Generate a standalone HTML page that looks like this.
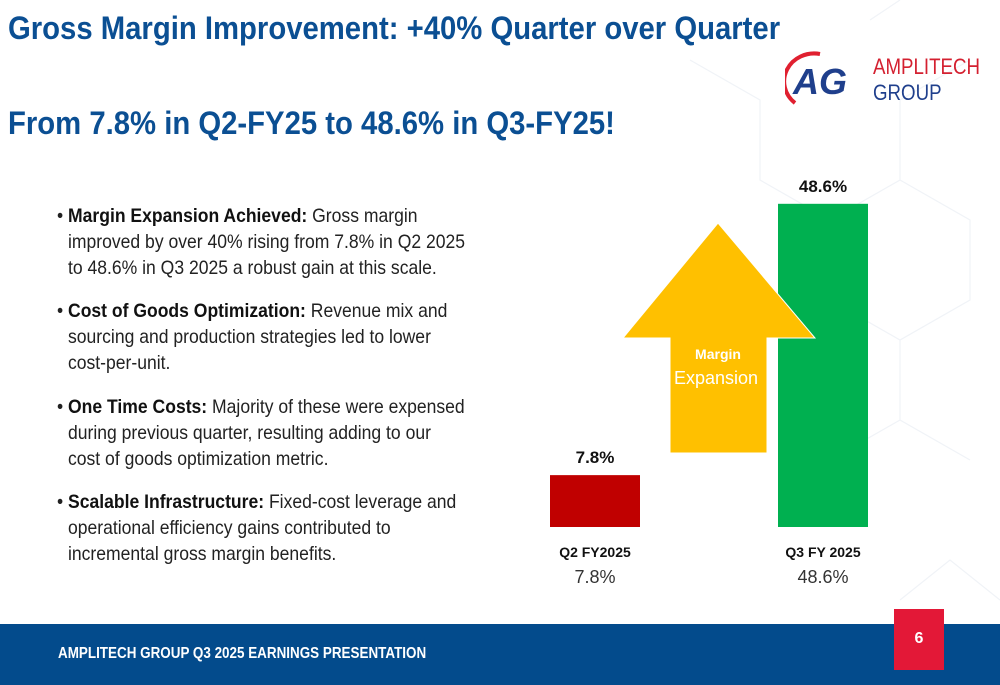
<!DOCTYPE html>
<html><head><meta charset="utf-8"><style>
body{margin:0;width:1000px;height:685px;overflow:hidden;background:#fff;font-family:"Liberation Sans",sans-serif;position:relative}
.a{position:absolute;white-space:nowrap;transform-origin:0 0}
.t{color:#0b4f93;font-weight:bold;font-size:32px;transform:scaleX(.915)}
.b{font-size:19.5px;color:#222;transform:scaleX(.9);line-height:26px}
.b b{color:#111}
</style></head><body>
<svg class="a" style="left:0;top:0" width="1000" height="685">
<g stroke="#f0f3f7" stroke-width="1.2" fill="none">
<path d="M690 60 L760 100 L760 180 L830 220 L900 180 L900 100 L970 60 M830 220 L830 300 L900 340 L970 300 L970 220 L900 180 M900 340 L900 420 L970 460 M870 20 L900 0 M900 420 L830 460 M900 600 L950 560 L1000 600"/>
</g></svg>
<div class="a t" style="left:8px;top:10px">Gross Margin Improvement: +40% Quarter over Quarter</div>
<div class="a t" style="left:8px;top:105px">From 7.8% in Q2-FY25 to 48.6% in Q3-FY25!</div>
<div class="a" style="left:785px;top:48px">
<svg width="90" height="60" style="position:absolute;left:0;top:0">
<path d="M35 6 A30 28 0 0 0 10 55" stroke="#e02030" stroke-width="4" fill="none"/>
<text x="8" y="46" font-family="Liberation Sans" font-weight="bold" font-style="italic" font-size="36" fill="#1f3f8c">AG</text></svg>
<div class="a" style="left:88px;top:6px;font-size:22px;color:#d42030;transform:scaleX(.85)">AMPLITECH</div>
<div class="a" style="left:88px;top:32px;font-size:22px;color:#1f3f8c;transform:scaleX(.85)">GROUP</div>
</div>
<div>
<div class="a b" style="left:57px;top:203px">• <b>Margin Expansion Achieved:</b> Gross margin</div>
<div class="a b" style="left:68px;top:229px">improved by over 40% rising from 7.8% in Q2 2025</div>
<div class="a b" style="left:68px;top:255px">to 48.6% in Q3 2025 a robust gain at this scale.</div>
<div class="a b" style="left:57px;top:298px">• <b>Cost of Goods Optimization:</b> Revenue mix and</div>
<div class="a b" style="left:68px;top:324px">sourcing and production strategies led to lower</div>
<div class="a b" style="left:68px;top:350px">cost-per-unit.</div>
<div class="a b" style="left:57px;top:394px">• <b>One Time Costs:</b> Majority of these were expensed</div>
<div class="a b" style="left:68px;top:420px">during previous quarter, resulting adding to our</div>
<div class="a b" style="left:68px;top:446px">cost of goods optimization metric.</div>
<div class="a b" style="left:57px;top:489px">• <b>Scalable Infrastructure:</b> Fixed-cost leverage and</div>
<div class="a b" style="left:68px;top:515px">operational efficiency gains contributed to</div>
<div class="a b" style="left:68px;top:541px">incremental gross margin benefits.</div>
</div>
<svg id="chart" class="a" style="left:0;top:0" width="1000" height="685">
<g id="bars"></g>
<polygon points="718,223 815,338 767,338 767,453 670,453 670,338 623,338" fill="#ffc000" stroke="#fff" stroke-width="1"/>
<text x="718" y="359" text-anchor="middle" font-size="14" font-weight="bold" fill="#fff">Margin</text>
<text x="716" y="384" text-anchor="middle" font-size="18" fill="#fff">Expansion</text>
</svg>
<div class="a" style="left:0;top:624px;width:1000px;height:61px;background:#034b8c"></div>
<div class="a" style="left:58px;top:645px;color:#fff;font-weight:bold;font-size:16px;transform:scaleX(.84)">AMPLITECH GROUP Q3 2025 EARNINGS PRESENTATION</div>
<div class="a" style="left:894px;top:609px;width:50px;height:61px;background:#e31837;color:#fff;font-weight:bold;font-size:16px;text-align:center;line-height:60px">6</div>
<script>
const categories=["Q2 FY2025","Q3 FY 2025"];
const values=[7.8,48.6];
const valueLabels=["7.8%","48.6%"];
const colors=["#c00000","#00b050"];
const svg=document.getElementById('bars');
const NS="http://www.w3.org/2000/svg";
const base=527, scale=6.65, xs=[550,778], bw=90;
function y(v){return base-v*scale;}
categories.forEach((c,i)=>{
  const r=document.createElementNS(NS,'rect');
  r.setAttribute('x',xs[i]);r.setAttribute('y',y(values[i]));r.setAttribute('width',bw);r.setAttribute('height',values[i]*scale);r.setAttribute('fill',colors[i]);
  
  
  svg.appendChild(r);
  const cx=xs[i]+bw/2;
  const t=document.createElementNS(NS,'text');
  t.setAttribute('x',cx);t.setAttribute('y',y(values[i])-12);t.setAttribute('text-anchor','middle');t.setAttribute('font-size','17');t.setAttribute('font-weight','bold');t.setAttribute('fill','#111');
  t.textContent=valueLabels[i];
  
  
  svg.appendChild(t);
  const c1=document.createElementNS(NS,'text');
  c1.setAttribute('x',cx);c1.setAttribute('y',557);c1.setAttribute('text-anchor','middle');c1.setAttribute('font-size','14');c1.setAttribute('font-weight','bold');c1.setAttribute('fill','#111');
  c1.textContent=c;
  
  
  svg.appendChild(c1);
  const c2=document.createElementNS(NS,'text');
  c2.setAttribute('x',cx);c2.setAttribute('y',583);c2.setAttribute('text-anchor','middle');c2.setAttribute('font-size','18');c2.setAttribute('fill','#333');
  c2.textContent=valueLabels[i];
  
  
  svg.appendChild(c2);
});
</script>
</body></html>
